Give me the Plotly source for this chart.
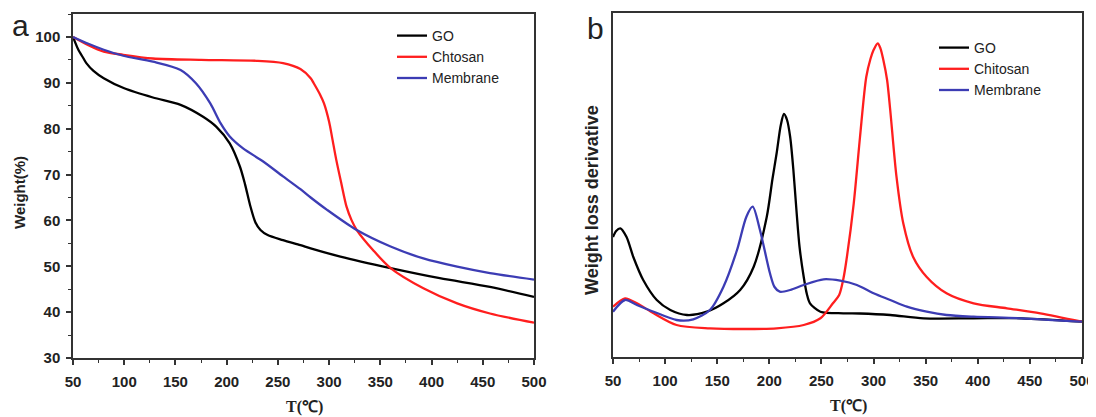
import plotly.graph_objects as go

# ---------------- Panel a: TGA (Weight %) ----------------
go_T = [50, 55, 60, 63, 70, 80, 100, 128, 155, 177, 190, 203, 213, 218, 223, 228, 233, 240, 255, 272, 282, 311, 360, 408, 457, 500]
go_W = [100, 97.3, 95.4, 94.3, 92.6, 91.0, 88.8, 86.8, 85.2, 82.6, 80.4, 76.8, 71.7, 67.8, 63.2, 59.6, 57.9, 56.8, 55.7, 54.6, 53.9, 52.1, 49.6, 47.4, 45.5, 43.3]

ch_T = [50, 65, 80, 99, 128, 175, 229, 255, 272, 282, 285, 291, 295, 300, 303, 307, 312, 317, 322, 327, 343, 360, 392, 425, 457, 500]
ch_W = [100, 98.2, 96.8, 96.1, 95.3, 95.0, 94.8, 94.3, 93.0, 91.0, 89.9, 87.5, 85.5, 81.5, 78.0, 73.2, 68.0, 63.0, 60.0, 57.9, 53.5, 49.6, 45.2, 41.9, 39.7, 37.7]

mb_T = [50, 65, 80, 99, 128, 155, 170, 184, 194, 203, 216, 236, 255, 272, 282, 298, 327, 360, 392, 425, 457, 500]
mb_W = [100, 98.5, 97.2, 95.9, 94.6, 92.8, 89.9, 85.5, 81.2, 78.3, 75.7, 72.8, 69.6, 66.8, 65.0, 62.3, 57.9, 54.3, 51.7, 49.9, 48.5, 47.1]

# ---------------- Panel b: DTG (arbitrary units) ----------------
go_dT = [50, 53, 57, 63, 69.5, 79, 92, 105, 121, 140, 156, 172, 185, 197.5, 203, 207, 211, 214, 217, 220, 223, 226, 229, 233, 236, 239, 249, 271, 287, 316, 348, 396, 442, 500]
go_dV = [120, 126, 128.7, 120, 100, 77, 57, 47, 42, 45.3, 53.7, 67, 90.3, 140, 178, 203.7, 232, 243, 237, 220, 188, 147, 110, 80, 63, 53.7, 45.3, 43.7, 43.5, 42, 38.7, 38.7, 38.7, 35.3]

ch_dT = [50, 61.5, 73, 89, 111, 143, 175, 207, 233, 249, 261, 267, 271, 274, 281, 287, 293, 297, 300, 304, 306.6, 309.4, 313, 316, 322, 328.5, 338, 351, 370, 396, 428, 460, 500]
ch_dV = [50.3, 58.7, 53.7, 43.7, 32, 28.7, 28, 28.7, 32, 38.7, 53.7, 62, 78, 97, 153.7, 220, 280, 298, 307, 313.7, 308.7, 297, 277, 247, 180.3, 133.7, 100, 80, 63.7, 53.7, 48.7, 43.7, 35.3]

mb_dT = [50, 61.5, 73, 89, 111, 127, 143, 156, 169, 178, 184, 191, 200.6, 205, 210, 220, 233, 252, 268, 284, 300, 316, 332, 351, 370, 396, 442, 500]
mb_dV = [45.3, 57, 52, 45.3, 37, 37.7, 47, 70.3, 107, 140.3, 150.3, 127, 83.7, 70, 65.3, 67, 72, 77.7, 76.3, 72, 63.7, 57, 50.3, 45.3, 42, 40.3, 38.7, 35.3]

names_a = ["GO", "Chtosan", "Membrane"]
names_b = ["GO", "Chitosan", "Membrane"]
colors = ["#000000", "#ff1e1e", "#3c3cb4"]

fig = go.Figure()
for (x, y), n, c in zip([(go_T, go_W), (ch_T, ch_W), (mb_T, mb_W)], names_a, colors):
    fig.add_trace(go.Scatter(x=x, y=y, mode="lines", name=n,
                             line=dict(color=c, width=2.3, shape="spline", smoothing=0.8),
                             xaxis="x", yaxis="y", legend="legend"))
for (x, y), n, c in zip([(go_dT, go_dV), (ch_dT, ch_dV), (mb_dT, mb_dV)], names_b, colors):
    fig.add_trace(go.Scatter(x=x, y=y, mode="lines", name=n,
                             line=dict(color=c, width=2.3, shape="spline", smoothing=0.8),
                             xaxis="x2", yaxis="y2", legend="legend2"))

# The page body has an 8px margin, so the figure is drawn at (8, 8) in the window.
OFF = 8
W, H = 1096 - OFF, 417 - OFF


def sx(px):  # screen x -> paper fraction
    return (px - OFF) / W


def sy(py):  # screen y -> paper fraction
    return (H - (py - OFF)) / H


axcol = "#333333"
tickfont = dict(family="Liberation Sans, Arial", size=15, color="#222222", weight="bold")
txtfont = dict(family="Liberation Sans, Arial", color="#222222")

common_x = dict(range=[50, 500], dtick=50, tick0=50, showline=True, linecolor=axcol, linewidth=1.5,
                mirror=True, ticks="outside", ticklen=5, tickwidth=1.5, tickcolor=axcol,
                tickfont=tickfont, ticklabelstandoff=4, showgrid=False, zeroline=False, automargin=False,
                minor=dict(dtick=25, tick0=50, ticks="outside", ticklen=3, tickwidth=1.2, tickcolor=axcol))


def ann(text, x, y, size, angle=0, bold=False, family=None):
    f = dict(txtfont, size=size)
    if bold:
        f["weight"] = "bold"
    if family:
        f["family"] = family
    return dict(text=text, x=sx(x), y=sy(y), xref="paper", yref="paper", showarrow=False,
                xanchor="center", yanchor="middle", textangle=angle, font=f)


fig.update_layout(
    width=W, height=H, margin=dict(l=0, r=0, t=0, b=0, autoexpand=False),
    paper_bgcolor="white", plot_bgcolor="white",
    showlegend=True,
    xaxis=dict(domain=[sx(73), sx(534)], anchor="y", **common_x),
    yaxis=dict(domain=[sy(358), sy(14)], anchor="x", range=[30, 105],
               tickvals=[30, 40, 50, 60, 70, 80, 90, 100], automargin=False,
               showline=True, linecolor=axcol, linewidth=1.5, mirror=True,
               ticks="outside", ticklen=5, tickwidth=1.5, tickcolor=axcol,
               tickfont=tickfont, ticklabelstandoff=3, showgrid=False, zeroline=False,
               minor=dict(dtick=5, tick0=30, ticks="outside", ticklen=3, tickwidth=1.2, tickcolor=axcol)),
    xaxis2=dict(domain=[sx(613), sx(1082)], anchor="y2", **common_x),
    yaxis2=dict(domain=[sy(357), sy(13)], anchor="x2", range=[0, 344], automargin=False,
                showline=True, linecolor=axcol, linewidth=1.5, mirror=True,
                ticks="", showticklabels=False, showgrid=False, zeroline=False),
    legend=dict(x=sx(392), y=sy(20), xanchor="left", yanchor="top",
                bgcolor="rgba(0,0,0,0)", itemwidth=30, tracegroupgap=0,
                font=dict(txtfont, size=14)),
    legend2=dict(x=sx(934), y=sy(32), xanchor="left", yanchor="top",
                 bgcolor="rgba(0,0,0,0)", itemwidth=30, tracegroupgap=0,
                 font=dict(txtfont, size=14)),
    annotations=[
        ann("a", 20, 25, 30),
        ann("b", 595, 28, 30),
        ann("Weight(%)", 19, 193, 15, angle=-90, bold=True),
        ann("Weight loss derivative", 592, 200, 18, angle=-90, bold=True),
        ann("T(℃)", 304, 407, 16, bold=True, family="Liberation Serif, Times New Roman"),
        ann("T(℃)", 848, 406, 16, bold=True, family="Liberation Serif, Times New Roman"),
    ],
)

fig.write_html("out.html")
